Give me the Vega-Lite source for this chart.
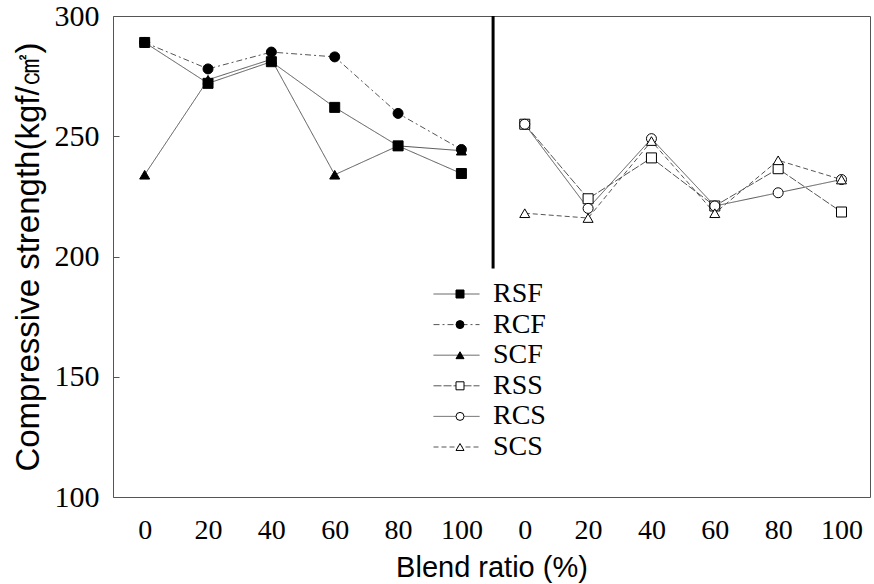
{
  "$schema": "https://vega.github.io/schema/vega-lite/v6.json",
  "width": 757,
  "height": 481,
  "autosize": {"type": "none"},
  "padding": {"left": 113, "top": 16, "right": 4, "bottom": 87},
  "background": "white",
  "config": {"view": {"stroke": "#555", "strokeWidth": 1}, "font": "Liberation Sans"},
  "data": {
    "values": [
      {"series": "RSF", "name": "RSF", "idx": 0, "ratio": 0, "strength": 289},
      {"series": "RSF", "name": "RSF", "idx": 1, "ratio": 20, "strength": 272},
      {"series": "RSF", "name": "RSF", "idx": 2, "ratio": 40, "strength": 281},
      {"series": "RSF", "name": "RSF", "idx": 3, "ratio": 60, "strength": 262},
      {"series": "RSF", "name": "RSF", "idx": 4, "ratio": 80, "strength": 246},
      {"series": "RSF", "name": "RSF", "idx": 5, "ratio": 100, "strength": 234.5},
      {"series": "RCF", "name": "RCF", "idx": 0, "ratio": 0, "strength": 289},
      {"series": "RCF", "name": "RCF", "idx": 1, "ratio": 20, "strength": 278},
      {"series": "RCF", "name": "RCF", "idx": 2, "ratio": 40, "strength": 285},
      {"series": "RCF", "name": "RCF", "idx": 3, "ratio": 60, "strength": 283},
      {"series": "RCF", "name": "RCF", "idx": 4, "ratio": 80, "strength": 259.5},
      {"series": "RCF", "name": "RCF", "idx": 5, "ratio": 100, "strength": 244.5},
      {"series": "SCF", "name": "SCF", "idx": 0, "ratio": 0, "strength": 234},
      {"series": "SCF", "name": "SCF", "idx": 1, "ratio": 20, "strength": 273.5},
      {"series": "SCF", "name": "SCF", "idx": 2, "ratio": 40, "strength": 282},
      {"series": "SCF", "name": "SCF", "idx": 3, "ratio": 60, "strength": 234},
      {"series": "SCF", "name": "SCF", "idx": 4, "ratio": 80, "strength": 246},
      {"series": "SCF", "name": "SCF", "idx": 5, "ratio": 100, "strength": 244},
      {"series": "RSS", "name": "RSS", "idx": 6, "ratio": 0, "strength": 255},
      {"series": "RSS", "name": "RSS", "idx": 7, "ratio": 20, "strength": 224},
      {"series": "RSS", "name": "RSS", "idx": 8, "ratio": 40, "strength": 241},
      {"series": "RSS", "name": "RSS", "idx": 9, "ratio": 60, "strength": 221},
      {"series": "RSS", "name": "RSS", "idx": 10, "ratio": 80, "strength": 236.5},
      {"series": "RSS", "name": "RSS", "idx": 11, "ratio": 100, "strength": 218.5},
      {"series": "RCS", "name": "RCS", "idx": 6, "ratio": 0, "strength": 255},
      {"series": "RCS", "name": "RCS", "idx": 7, "ratio": 20, "strength": 220},
      {"series": "RCS", "name": "RCS", "idx": 8, "ratio": 40, "strength": 249},
      {"series": "RCS", "name": "RCS", "idx": 9, "ratio": 60, "strength": 221},
      {"series": "RCS", "name": "RCS", "idx": 10, "ratio": 80, "strength": 226.5},
      {"series": "RCS", "name": "RCS", "idx": 11, "ratio": 100, "strength": 232},
      {"series": "SCS", "name": "SCS", "idx": 6, "ratio": 0, "strength": 218},
      {"series": "SCS", "name": "SCS", "idx": 7, "ratio": 20, "strength": 216},
      {"series": "SCS", "name": "SCS", "idx": 8, "ratio": 40, "strength": 248},
      {"series": "SCS", "name": "SCS", "idx": 9, "ratio": 60, "strength": 218},
      {"series": "SCS", "name": "SCS", "idx": 10, "ratio": 80, "strength": 240},
      {"series": "SCS", "name": "SCS", "idx": 11, "ratio": 100, "strength": 232}
    ]
  },
  "layer": [
    {
      "mark": {"type": "line", "color": "#555", "strokeWidth": 1},
      "encoding": {
        "x": {
          "field": "idx", "type": "quantitative",
          "scale": {"domain": [-0.5, 11.45], "nice": false, "zero": false},
          "axis": {
            "values": [0, 1, 2, 3, 4, 5, 6, 7, 8, 9, 10, 11],
            "labelExpr": "['0','20','40','60','80','100'][datum.value % 6]",
            "title": "Blend ratio (%)",
            "grid": false, "ticks": false, "domain": false,
            "labelFont": "Liberation Serif", "labelFontSize": 28, "labelColor": "black", "labelPadding": 19,
            "titleFont": "Liberation Sans", "titleFontSize": 29, "titleFontWeight": "normal", "titleColor": "black", "titlePadding": 9
          }
        },
        "y": {
          "field": "strength", "type": "quantitative",
          "scale": {"domain": [100, 300], "nice": false, "zero": false},
          "axis": {
            "values": [100, 150, 200, 250, 300],
            "title": "Compressive strength(kgf/㎠)",
            "grid": false, "ticks": true, "tickSize": -6, "tickColor": "#555", "domain": false,
            "labelFont": "Liberation Serif", "labelFontSize": 30, "labelColor": "black", "labelPadding": 20,
            "titleFont": "Liberation Sans", "titleFontSize": 33, "titleFontWeight": "normal", "titleColor": "black", "titlePadding": 9
          }
        },
        "strokeDash": {
          "field": "series", "type": "nominal", "sort": null,
          "scale": {"range": [[1, 0], [6, 3, 2, 3], [1, 0], [8, 2], [1, 0], [5, 3]]},
          "legend": {
            "orient": "none", "legendX": 320, "legendY": 266, "title": null,
            "symbolType": "stroke", "symbolSize": 2116, "symbolStrokeColor": "#555", "symbolStrokeWidth": 1,
            "labelFont": "Liberation Serif", "labelFontSize": 28, "labelColor": "black", "labelOffset": 13,
            "clipHeight": 24, "rowPadding": 2.6, "padding": 0
          }
        }
      }
    },
    {
      "mark": {"type": "point", "filled": false, "color": "black", "stroke": "black", "strokeWidth": 1, "size": 100, "opacity": 1, "fillOpacity": 1},
      "encoding": {
        "x": {"field": "idx", "type": "quantitative"},
        "y": {"field": "strength", "type": "quantitative"},
        "shape": {
          "field": "name", "type": "nominal", "sort": null,
          "scale": {"range": ["square", "circle", "triangle-up", "square", "circle", "triangle-up"]},
          "legend": {
            "orient": "none", "legendX": 333, "legendY": 266, "title": null,
            "symbolSize": 64, "symbolStrokeColor": "black", "symbolStrokeWidth": 1,
            "labelFont": "Liberation Serif", "labelFontSize": 28, "labelExpr": "''",
            "clipHeight": 24, "rowPadding": 2.6, "padding": 0
          }
        },
        "fill": {
          "field": "name", "type": "nominal", "sort": null,
          "scale": {"range": ["black", "black", "black", "white", "white", "white"]},
          "legend": {
            "orient": "none", "legendX": 333, "legendY": 266, "title": null,
            "symbolSize": 64, "symbolStrokeColor": "black", "symbolStrokeWidth": 1,
            "labelFont": "Liberation Serif", "labelFontSize": 28, "labelExpr": "''",
            "clipHeight": 24, "rowPadding": 2.6, "padding": 0
          }
        },
        "stroke": {
          "field": "name", "type": "nominal", "sort": null,
          "scale": {"range": ["black", "black", "black", "black", "black", "black"]},
          "legend": {
            "orient": "none", "legendX": 333, "legendY": 266, "title": null,
            "symbolSize": 64, "symbolStrokeColor": "black", "symbolStrokeWidth": 1,
            "labelFont": "Liberation Serif", "labelFontSize": 28, "labelExpr": "''",
            "clipHeight": 24, "rowPadding": 2.6, "padding": 0
          }
        }
      }
    },
    {
      "data": {"values": [{"split": 5.5, "top": 300, "bottom": 195}]},
      "mark": {"type": "rule", "color": "black", "strokeWidth": 3},
      "encoding": {
        "x": {"field": "split", "type": "quantitative"},
        "y": {"field": "top", "type": "quantitative"},
        "y2": {"field": "bottom"}
      }
    }
  ]
}
